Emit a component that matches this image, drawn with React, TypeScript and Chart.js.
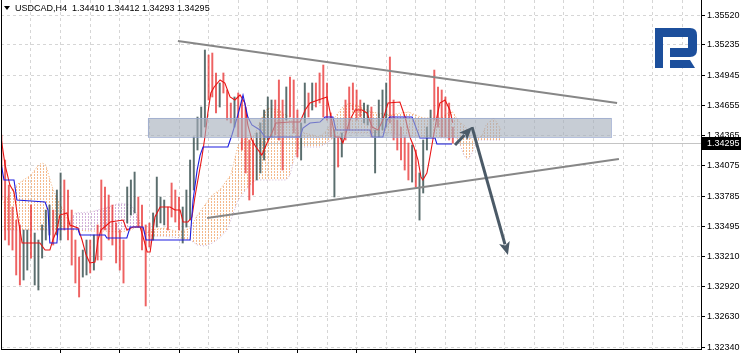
import React, { useEffect, useRef } from 'react';
import { Chart, registerables } from 'chart.js';
Chart.register(...registerables);

// ---- price bars (H4) ----
const barHigh = [
  1.34371, 1.34131, 1.33891, 1.33681, 1.33556, 1.33509, 1.33461, 1.33461, 1.33700, 1.33432,
  1.33365, 1.33509, 1.33652, 1.33700, 1.33652, 1.33844, 1.34007, 1.33940, 1.33844, 1.33652,
  1.33365, 1.33202, 1.33269, 1.33365, 1.33365, 1.33413, 1.33509, 1.33940, 1.33873, 1.33796,
  1.33700, 1.33528, 1.33461, 1.33365, 1.33873, 1.33940, 1.34016, 1.33777, 1.33700, 1.33509,
  1.33528, 1.33624, 1.33968, 1.33777, 1.33748, 1.33681, 1.33911, 1.33844, 1.33777, 1.33681,
  1.33844, 1.34131, 1.34352, 1.34543, 1.34639, 1.35185, 1.35137, 1.35156, 1.34965, 1.34869,
  1.34965, 1.34802, 1.34677, 1.34735, 1.34773, 1.34706, 1.34639, 1.34323, 1.34323, 1.34390,
  1.34486, 1.34610, 1.34735, 1.34706, 1.34706, 1.34898, 1.34706, 1.34831, 1.34926, 1.34898,
  1.34610, 1.34486, 1.34869, 1.34773, 1.34869, 1.34869, 1.34965, 1.35041, 1.34869, 1.34582,
  1.34419, 1.34352, 1.34390, 1.34706, 1.34831, 1.34869, 1.34802, 1.34706, 1.34677, 1.34658,
  1.34639, 1.34419, 1.34706, 1.34802, 1.34869, 1.35118, 1.34706, 1.34514, 1.34447, 1.34352,
  1.34294, 1.34275, 1.34227, 1.34007, 1.34323, 1.34447, 1.34610, 1.34993, 1.34831, 1.34802,
  1.34735, 1.34677, 1.34447,
];
const barLow = [
  1.33748, 1.33365, 1.33317, 1.33269, 1.33030, 1.32934, 1.32982, 1.33077, 1.33192, 1.32934,
  1.32886, 1.33192, 1.33365, 1.33413, 1.33317, 1.33413, 1.33365, 1.33461, 1.33365, 1.33125,
  1.32953, 1.32819, 1.33010, 1.33030, 1.33049, 1.33077, 1.33173, 1.33173, 1.33461, 1.33365,
  1.33317, 1.33145, 1.33077, 1.32953, 1.33528, 1.33604, 1.33624, 1.33489, 1.33269, 1.32733,
  1.33298, 1.33365, 1.33489, 1.33528, 1.33509, 1.33461, 1.33585, 1.33537, 1.33461, 1.33336,
  1.33489, 1.33556, 1.33844, 1.34227, 1.34352, 1.34447, 1.34706, 1.34735, 1.34582, 1.34639,
  1.34773, 1.34514, 1.34486, 1.34447, 1.34352, 1.34227, 1.34007, 1.33748, 1.33796, 1.33940,
  1.34007, 1.34131, 1.34323, 1.34352, 1.34371, 1.34323, 1.34035, 1.34514, 1.34543, 1.34390,
  1.34160, 1.34131, 1.34486, 1.34543, 1.34610, 1.34639, 1.34677, 1.34543, 1.34514, 1.34352,
  1.33777, 1.34064, 1.34160, 1.34323, 1.34419, 1.34610, 1.34514, 1.34543, 1.34486, 1.34467,
  1.34352, 1.34007, 1.34352, 1.34419, 1.34447, 1.34486, 1.34323, 1.34227, 1.34131, 1.34035,
  1.33940, 1.33920, 1.33873, 1.33556, 1.33815, 1.34227, 1.34352, 1.34514, 1.34447, 1.34352,
  1.34352, 1.34323, 1.34294,
];
// 1 = red bar, 0 = grey bar
const barRed = [
  1, 1, 1, 1, 1, 1, 0, 0, 1, 0,
  0, 0, 0, 0, 1, 0, 0, 1, 1, 1,
  1, 1, 0, 0, 1, 0, 1, 1, 1, 1,
  1, 1, 1, 1, 0, 0, 0, 1, 1, 1,
  1, 0, 0, 0, 0, 1, 1, 1, 1, 0,
  0, 0, 0, 0, 0, 0, 1, 1, 1, 0,
  1, 1, 1, 0, 1, 1, 1, 1, 1, 0,
  0, 0, 0, 0, 1, 1, 1, 0, 1, 1,
  1, 0, 0, 1, 0, 1, 1, 1, 1, 1,
  0, 1, 0, 1, 1, 1, 1, 1, 0, 0,
  1, 0, 0, 0, 0, 1, 1, 1, 1, 1,
  1, 0, 1, 0, 0, 0, 0, 1, 1, 1,
  1, 1, 1,
];

// ---- Ichimoku: Tenkan-sen (red) ----
const tenkanX = [0, 1.0, 2.3, 3.4, 4.2, 5.6, 10.4, 11.8, 13.1, 13.9, 15.0, 15.8, 17.7, 18.5, 20.7, 21.8, 22.9, 23.9, 25.3, 26.1, 26.9, 29.4, 32.9, 33.9, 35.6, 37.5, 38.3, 39.4, 40.2, 41.5, 42.9, 45.6, 46.9, 48.3, 49.1, 50.4, 51.5, 52.3, 53.1, 54.2, 55.0, 55.8, 56.6, 57.5, 59.1, 60.4, 61.8, 63.1, 64.5, 65.8, 66.6, 67.7, 68.8, 70.4, 71.8, 73.1, 74.2, 78.0, 80.7, 82.1, 83.4, 85.6, 88.0, 89.1, 90.2, 91.5, 92.3, 94.2, 95.6, 97.5, 98.8, 100.2, 101.8, 103.1, 104.5, 107.7, 109.1, 110.4, 111.5, 112.6, 113.4, 113.9, 115.0, 115.8, 116.6, 117.7, 118.5, 119.9, 121.2, 122.0];
const tenkanY = [1.34323, 1.34083, 1.33891, 1.33825, 1.33633, 1.33336, 1.33336, 1.33269, 1.33269, 1.33365, 1.33461, 1.33604, 1.33624, 1.33509, 1.33480, 1.33365, 1.33221, 1.33145, 1.33154, 1.33365, 1.33461, 1.33537, 1.33556, 1.33461, 1.33489, 1.33489, 1.33393, 1.33250, 1.33250, 1.33585, 1.33681, 1.33681, 1.33652, 1.33652, 1.33537, 1.33537, 1.33585, 1.33777, 1.33940, 1.34160, 1.34352, 1.34582, 1.34773, 1.34831, 1.34898, 1.34869, 1.34735, 1.34706, 1.34754, 1.34677, 1.34467, 1.34323, 1.34256, 1.34179, 1.34294, 1.34390, 1.34486, 1.34495, 1.34495, 1.34610, 1.34677, 1.34706, 1.34735, 1.34543, 1.34352, 1.34352, 1.34294, 1.34514, 1.34610, 1.34610, 1.34582, 1.34447, 1.34419, 1.34514, 1.34677, 1.34687, 1.34543, 1.34352, 1.34256, 1.34131, 1.33968, 1.33940, 1.34007, 1.34160, 1.34323, 1.34543, 1.34677, 1.34706, 1.34610, 1.34486];

// ---- Ichimoku: Kijun-sen (blue) ----
const kijunX = [0, 0.7, 3.4, 4.2, 11.8, 12.6, 13.1, 15.0, 15.3, 20.7, 21.2, 28.0, 28.5, 33.9, 34.8, 38.3, 39.1, 51.0, 51.8, 52.9, 53.7, 54.5, 61.2, 62.3, 63.9, 65.3, 66.6, 67.7, 69.9, 71.2, 80.7, 81.5, 83.4, 86.1, 87.5, 89.6, 90.4, 99.6, 100.2, 103.1, 104.2, 105.0, 111.0, 113.1, 117.2, 117.7, 121.8];
const kijunY = [1.34083, 1.33940, 1.33940, 1.33748, 1.33729, 1.33652, 1.33336, 1.33336, 1.33470, 1.33470, 1.33413, 1.33413, 1.33384, 1.33384, 1.33489, 1.33489, 1.33365, 1.33365, 1.33748, 1.34035, 1.34179, 1.34256, 1.34256, 1.34371, 1.34562, 1.34754, 1.34543, 1.34467, 1.34419, 1.34352, 1.34352, 1.34438, 1.34486, 1.34495, 1.34543, 1.34543, 1.34419, 1.34419, 1.34352, 1.34352, 1.34514, 1.34543, 1.34543, 1.34342, 1.34342, 1.34285, 1.34285];

// ---- Ichimoku cloud: Senkou Span A / B ----
const cloudX = [0, 2, 4, 6, 8, 10, 11, 12, 13, 14, 15, 16, 17, 18, 19, 20, 24, 28, 32, 35, 36, 37, 38, 39, 40, 44, 48, 51, 53, 55, 57, 59, 61, 62, 63, 64, 66, 68, 69, 70, 72, 75, 77, 78, 79, 80, 81, 86, 88, 90, 92, 94, 96, 100, 105, 108, 110, 114, 119, 121, 122, 123, 124, 125, 126, 127, 128, 129, 130, 131, 133, 134, 135];
const spanA = [1.33700, 1.33796, 1.33891, 1.33940, 1.33988, 1.34083, 1.34103, 1.34083, 1.33959, 1.33844, 1.33767, 1.33700, 1.33633, 1.33537, 1.33461, 1.33461, 1.33451, 1.33451, 1.33441, 1.33461, 1.33480, 1.33499, 1.33499, 1.33422, 1.33461, 1.33480, 1.33441, 1.33480, 1.33604, 1.33700, 1.33796, 1.33844, 1.33940, 1.33988, 1.34131, 1.34275, 1.34342, 1.34352, 1.34419, 1.34514, 1.34629, 1.34610, 1.34562, 1.34534, 1.34467, 1.34419, 1.34399, 1.34352, 1.34419, 1.34534, 1.34629, 1.34677, 1.34658, 1.34591, 1.34562, 1.34582, 1.34591, 1.34534, 1.34534, 1.34591, 1.34591, 1.34534, 1.34486, 1.34467, 1.34419, 1.34323, 1.34323, 1.34342, 1.34371, 1.34467, 1.34534, 1.34486, 1.34419];
const spanB = [1.33461, 1.33461, 1.33461, 1.33461, 1.33461, 1.33461, 1.33461, 1.33461, 1.33461, 1.33461, 1.33461, 1.33461, 1.33461, 1.33470, 1.33576, 1.33624, 1.33633, 1.33671, 1.33719, 1.33700, 1.33652, 1.33576, 1.33509, 1.33422, 1.33403, 1.33403, 1.33384, 1.33365, 1.33317, 1.33307, 1.33336, 1.33384, 1.33461, 1.33556, 1.33652, 1.33748, 1.33844, 1.33920, 1.33940, 1.33940, 1.33940, 1.33940, 1.33940, 1.33988, 1.34131, 1.34227, 1.34256, 1.34256, 1.34294, 1.34352, 1.34390, 1.34390, 1.34390, 1.34390, 1.34390, 1.34371, 1.34361, 1.34352, 1.34342, 1.34342, 1.34342, 1.34342, 1.34275, 1.34179, 1.34131, 1.34179, 1.34275, 1.34323, 1.34323, 1.34323, 1.34323, 1.34323, 1.34323];

// ---- drawn objects ----
const trendUpperX = [47.7, 166.4];
const trendUpperY = [1.35271, 1.34677];
const trendLowerX = [55.6, 166.9];
const trendLowerY = [1.33576, 1.34141];
const zoneX = [39.6, 164.8];
const zoneY = [1.34352, 1.34534];
const arrowUpX = [122.6, 127.2];
const arrowUpY = [1.34275, 1.34447];
const arrowDownX = [127.2, 136.9];
const arrowDownY = [1.34447, 1.33221];

// ---- axes / labels ----
const priceTicks = [1.35520, 1.35235, 1.34945, 1.34655, 1.34365, 1.34075, 1.33785, 1.33495, 1.33210, 1.32920, 1.32630, 1.32340];
const timeGridTicks = [8, 16, 24, 32, 40, 48, 56, 64, 72, 80, 88, 96, 104, 112, 120, 128, 136, 144, 152, 160, 168, 176, 184];
const timeMajorTicks = [16, 32, 48, 64, 80, 96, 112];
const priceMin = 1.32321;
const priceMax = 1.35664;
const xMin = -0.108;
const xMax = 189.08;
const symbolLabel = 'USDCAD,H4';
const ohlcLabels = ['1.34410', '1.34412', '1.34293', '1.34295'];
const lastPrice = 1.34295;

const FONT = '"Liberation Sans", Arial, sans-serif';

function drawArrow(ctx: CanvasRenderingContext2D, x1: number, y1: number, x2: number, y2: number) {
  const ang = Math.atan2(y2 - y1, x2 - x1);
  const len = 13;
  const hw = 5.5;
  const bx = x2 - Math.cos(ang) * len;
  const by = y2 - Math.sin(ang) * len;
  ctx.beginPath();
  ctx.moveTo(x1, y1);
  ctx.lineTo(bx + Math.cos(ang) * 2, by + Math.sin(ang) * 2);
  ctx.stroke();
  ctx.beginPath();
  ctx.moveTo(x2, y2);
  ctx.lineTo(bx - Math.sin(ang) * hw, by + Math.cos(ang) * hw);
  ctx.lineTo(bx + Math.cos(ang) * 3, by + Math.sin(ang) * 3);
  ctx.lineTo(bx + Math.sin(ang) * hw, by - Math.cos(ang) * hw);
  ctx.closePath();
  ctx.fill();
}

const overlayPlugin = {
  id: 'overlay',
  beforeDatasetsDraw(chart: any) {
    const { ctx, chartArea, scales } = chart;
    const py = Math.round(scales.y.getPixelForValue(lastPrice)) + 0.5;
    ctx.save();
    ctx.strokeStyle = '#c4c4c4';
    ctx.lineWidth = 1;
    ctx.beginPath();
    ctx.moveTo(chartArea.left, py);
    ctx.lineTo(chartArea.right, py);
    ctx.stroke();
    ctx.restore();
  },
  afterDatasetsDraw(chart: any) {
    const { ctx, scales } = chart;
    const X = (v: number) => scales.x.getPixelForValue(v);
    const Y = (v: number) => scales.y.getPixelForValue(v);
    ctx.save();
    // zone rectangle
    const rx1 = X(zoneX[0]), rx2 = X(zoneX[1]);
    const ry1 = Y(zoneY[1]), ry2 = Y(zoneY[0]);
    ctx.fillStyle = 'rgba(165,175,188,0.62)';
    ctx.fillRect(rx1, ry1, rx2 - rx1, ry2 - ry1);
    ctx.strokeStyle = 'rgba(150,165,205,0.7)';
    ctx.lineWidth = 1;
    ctx.strokeRect(Math.round(rx1) + 0.5, Math.round(ry1) + 0.5, Math.round(rx2 - rx1), Math.round(ry2 - ry1));
    // trend lines
    ctx.strokeStyle = '#878787';
    ctx.lineWidth = 2;
    ctx.beginPath();
    ctx.moveTo(X(trendUpperX[0]), Y(trendUpperY[0]));
    ctx.lineTo(X(trendUpperX[1]), Y(trendUpperY[1]));
    ctx.moveTo(X(trendLowerX[0]), Y(trendLowerY[0]));
    ctx.lineTo(X(trendLowerX[1]), Y(trendLowerY[1]));
    ctx.stroke();
    // arrows
    ctx.strokeStyle = '#4b5a67';
    ctx.fillStyle = '#4b5a67';
    ctx.lineWidth = 3;
    drawArrow(ctx, X(arrowUpX[0]), Y(arrowUpY[0]), X(arrowUpX[1]), Y(arrowUpY[1]));
    drawArrow(ctx, X(arrowDownX[0]), Y(arrowDownY[0]), X(arrowDownX[1]), Y(arrowDownY[1]));
    ctx.restore();
  },
  afterDraw(chart: any) {
    const { ctx, chartArea, scales } = chart;
    ctx.save();
    // left frame line
    ctx.strokeStyle = '#000';
    ctx.lineWidth = 1;
    ctx.beginPath();
    ctx.moveTo(chartArea.left + 0.5, chartArea.top);
    ctx.lineTo(chartArea.left + 0.5, chartArea.bottom);
    ctx.stroke();
    // header
    ctx.fillStyle = '#000';
    ctx.beginPath();
    ctx.moveTo(4, 6);
    ctx.lineTo(10, 6);
    ctx.lineTo(7, 10);
    ctx.closePath();
    ctx.fill();
    ctx.font = '9px ' + FONT;
    ctx.textBaseline = 'middle';
    ctx.textAlign = 'left';
    ctx.fillText(symbolLabel, 15, 8.5);
    ctx.fillText(ohlcLabels.join(' '), 72, 8.5);
    // current price box
    const py = Math.round(scales.y.getPixelForValue(lastPrice));
    ctx.fillStyle = '#000';
    ctx.fillRect(chartArea.right + 1, py - 6, 741 - chartArea.right - 1, 13);
    ctx.fillStyle = '#fff';
    ctx.fillText(lastPrice.toFixed(5), chartArea.right + 6, py + 0.5);
    // logo
    const lx = chartArea.right - 46;
    const ly = 28;
    ctx.fillStyle = '#1c4f9c';
    ctx.beginPath();
    ctx.moveTo(lx, ly);
    ctx.lineTo(lx + 35, ly);
    ctx.quadraticCurveTo(lx + 42, ly, lx + 42, ly + 7);
    ctx.lineTo(lx + 42, ly + 22);
    ctx.quadraticCurveTo(lx + 42, ly + 29, lx + 35, ly + 29);
    ctx.lineTo(lx + 15, ly + 29);
    ctx.lineTo(lx + 15, ly + 20);
    ctx.lineTo(lx + 33, ly + 20);
    ctx.lineTo(lx + 33, ly + 9);
    ctx.lineTo(lx + 8, ly + 9);
    ctx.lineTo(lx + 8, ly + 40);
    ctx.lineTo(lx, ly + 40);
    ctx.closePath();
    ctx.fill();
    ctx.beginPath();
    ctx.moveTo(lx + 15, ly + 32);
    ctx.lineTo(lx + 35, ly + 32);
    ctx.lineTo(lx + 40, ly + 40);
    ctx.lineTo(lx + 15, ly + 40);
    ctx.closePath();
    ctx.fill();
    ctx.restore();
  },
};

export default function App() {
  const ref = useRef<HTMLCanvasElement>(null);
  useEffect(() => {
    const canvas = ref.current as HTMLCanvasElement;
    const ctx = canvas.getContext('2d') as CanvasRenderingContext2D;
    const pattern = (color: string) => {
      const c = document.createElement('canvas');
      c.width = 3;
      c.height = 3;
      const g = c.getContext('2d') as CanvasRenderingContext2D;
      g.fillStyle = color;
      g.fillRect(1, 0, 1, 2);
      return ctx.createPattern(c, 'repeat');
    };
    const orangePat = pattern('rgba(240,155,90,0.7)');
    const pinkPat = pattern('rgba(195,150,205,0.75)');

    const redBars: any[] = [];
    const greyBars: any[] = [];
    barHigh.forEach((h, i) => {
      const pt = { x: i, y: [barLow[i], h] };
      if (barRed[i]) redBars.push(pt);
      else greyBars.push(pt);
    });

    const chart = new Chart(canvas, {
      type: 'line',
      data: {
        datasets: [
          {
            type: 'line',
            label: 'Senkou A',
            data: cloudX.map((x, i) => ({ x, y: spanA[i] })),
            borderColor: 'rgba(240,160,95,0.85)',
            borderWidth: 1,
            borderDash: [1, 2],
            pointRadius: 0,
            tension: 0,
            fill: { target: '+1', above: orangePat, below: pinkPat },
            order: 10,
          } as any,
          {
            type: 'line',
            label: 'Senkou B',
            data: cloudX.map((x, i) => ({ x, y: spanB[i] })),
            borderColor: 'rgba(200,170,210,0.9)',
            borderWidth: 1,
            borderDash: [1, 2],
            pointRadius: 0,
            tension: 0,
            fill: false,
            order: 10,
          },
          {
            type: 'bar',
            label: 'red',
            data: redBars,
            backgroundColor: 'rgba(232,45,45,0.75)',
            borderWidth: 0,
            barThickness: 1.3,
            grouped: false,
            order: 5,
          } as any,
          {
            type: 'bar',
            label: 'grey',
            data: greyBars,
            backgroundColor: 'rgba(55,78,78,0.82)',
            borderWidth: 0,
            barThickness: 1.3,
            grouped: false,
            order: 5,
          } as any,
          {
            type: 'line',
            label: 'Kijun',
            data: kijunX.map((x, i) => ({ x, y: kijunY[i] })),
            borderColor: '#1d1de0',
            borderWidth: 1.1,
            pointRadius: 0,
            tension: 0,
            fill: false,
            order: 1,
          },
          {
            type: 'line',
            label: 'Tenkan',
            data: tenkanX.map((x, i) => ({ x, y: tenkanY[i] })),
            borderColor: '#e81414',
            borderWidth: 1.1,
            pointRadius: 0,
            tension: 0,
            fill: false,
            order: 1,
          },
        ],
      },
      options: {
        animation: false,
        responsive: false,
        devicePixelRatio: 1,
        layout: { padding: { left: 1, top: 0, right: 0, bottom: 0 } },
        plugins: { legend: { display: false }, tooltip: { enabled: false }, title: { display: false } },
        scales: {
          x: {
            type: 'linear',
            min: xMin,
            max: xMax,
            offset: false,
            afterBuildTicks: (s: any) => {
              s.ticks = timeGridTicks.map((v) => ({ value: v }));
            },
            afterFit: (s: any) => {
              s.height = 4;
              s.paddingLeft = 0;
              s.paddingRight = 0;
            },
            ticks: { display: false },
            grid: {
              color: '#d6d6d6',
              lineWidth: 1,
              drawTicks: true,
              tickLength: 4,
              offset: false,
              tickColor: (c: any) =>
                c.tick && timeMajorTicks.includes(c.tick.value) ? '#000' : 'rgba(0,0,0,0)',
            },
            border: { display: true, color: '#000', width: 1, dash: [3, 3] },
          },
          y: {
            type: 'linear',
            position: 'right',
            min: priceMin,
            max: priceMax,
            afterBuildTicks: (s: any) => {
              s.ticks = priceTicks.map((v) => ({ value: v }));
            },
            afterFit: (s: any) => {
              s.width = 40;
              s.paddingTop = 0;
              s.paddingBottom = 0;
            },
            ticks: {
              autoSkip: false,
              padding: 2,
              color: '#000',
              font: { family: FONT, size: 9 },
              callback: (v: any) => Number(v).toFixed(5),
            },
            grid: { color: '#d6d6d6', lineWidth: 1, tickLength: 4, tickColor: '#000' },
            border: { display: true, color: '#000', width: 1, dash: [3, 3] },
          },
        },
      } as any,
      plugins: [overlayPlugin],
    });
    return () => chart.destroy();
  }, []);
  return (
    <div style={{ position: 'fixed', left: 0, top: 0, width: 741, height: 353, background: '#fff' }}>
      <canvas ref={ref} width={741} height={353} style={{ display: 'block' }} />
    </div>
  );
}
